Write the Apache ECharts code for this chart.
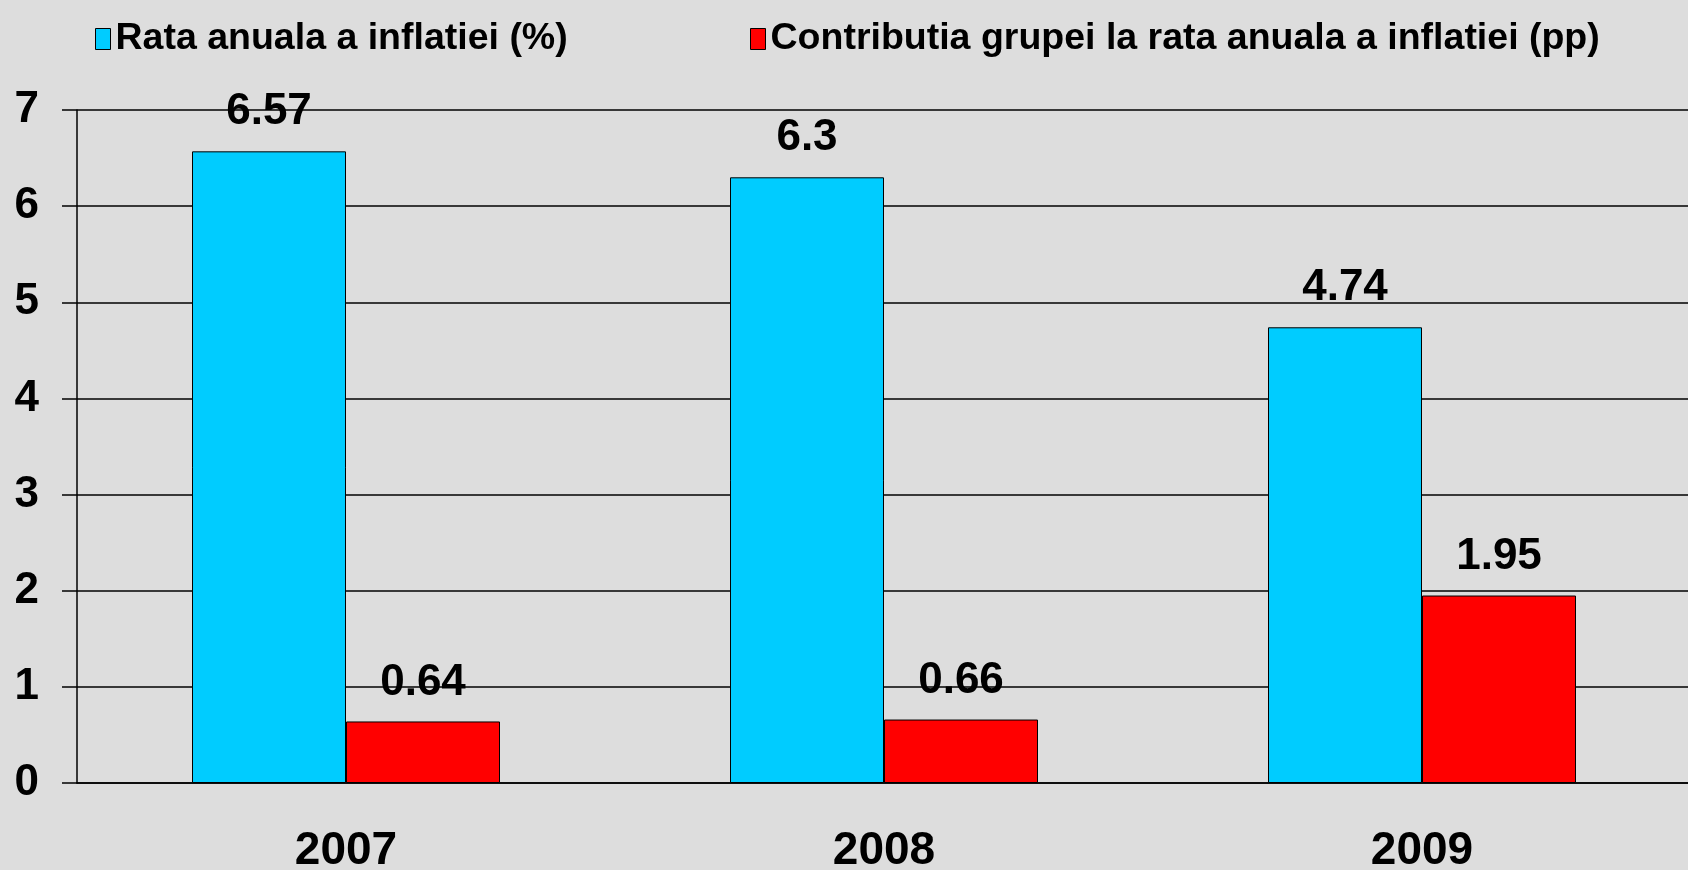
<!DOCTYPE html>
<html>
<head>
<meta charset="utf-8">
<title>Rata anuala a inflatiei</title>
<script src="https://cdn.jsdelivr.net/npm/echarts@6/dist/echarts.min.js"></script>
<style>
  html, body { margin: 0; padding: 0; background: #dddddd; }
  #inflationChart { width: 1688px; height: 870px; }
</style>
</head>
<body>
<div id="inflationChart"></div>
<script>
// data
var years = ["2007", "2008", "2009"];
var annualRate = [6.57, 6.3, 4.74];
var groupContribution = [0.64, 0.66, 1.95];
var seriesNames = [
  "Rata anuala a inflatiei (%)",
  "Contributia grupei la rata anuala a inflatiei (pp)",
];

var fontFamily = "Liberation Sans, Arial, sans-serif";

var chart = echarts.init(document.getElementById("inflationChart"));

// shared legend text style
var legendText = {
  fontFamily: fontFamily,
  fontWeight: "bold",
  fontSize: 37.5,
  color: "#000",
};

// ------------------------------
// Grouped bars, two legends placed by hand
// ------------------------------
var option = {
  backgroundColor: "#dddddd",
  animation: false,
  legend: [
    {
      data: [{ name: seriesNames[0], icon: "rect" }],
      left: 90,
      top: 15,
      itemWidth: 15,
      itemHeight: 21,
      itemStyle: { borderColor: "#000", borderWidth: 1 },
      textStyle: legendText,
    },
    {
      data: [{ name: seriesNames[1], icon: "rect" }],
      left: 745,
      top: 15,
      itemWidth: 15,
      itemHeight: 21,
      itemStyle: { borderColor: "#000", borderWidth: 1 },
      textStyle: legendText,
    },
  ],
  grid: {
    left: 77,
    right: -3,
    top: 110,
    bottom: 87,
    containLabel: false,
    outerBoundsMode: "none", // keep the plot where it is, labels may hang out
  },
  xAxis: {
    type: "category",
    data: years,
    axisLine: { lineStyle: { color: "#000", width: 1.5 } },
    axisTick: { length: 15, lineStyle: { color: "#000", width: 1.5 } },
    axisLabel: {
      margin: 45,
      fontFamily: fontFamily,
      fontWeight: "bold",
      fontSize: 46,
      color: "#000",
    },
  },
  yAxis: {
    type: "value",
    min: 0,
    max: 7,
    interval: 1,
    axisLine: { show: true, lineStyle: { color: "#000", width: 1.5 } },
    axisTick: { show: true, length: 15, lineStyle: { color: "#000", width: 1.5 } },
    splitLine: { lineStyle: { color: "#000", width: 1.5 } },
    axisLabel: {
      margin: 38,
      fontFamily: fontFamily,
      fontWeight: "bold",
      fontSize: 44,
      color: "#000",
    },
  },
  series: [
    {
      name: seriesNames[0],
      type: "bar",
      data: annualRate,
      barWidth: 154,
      barGap: "0%",
      itemStyle: { color: "#00ccff", borderColor: "#000", borderWidth: 1 },
      label: {
        show: true,
        position: "top",
        distance: 17,
        fontFamily: fontFamily,
        fontWeight: "bold",
        fontSize: 44,
        color: "#000",
      },
    },
    {
      name: seriesNames[1],
      type: "bar",
      data: groupContribution,
      barWidth: 154,
      barGap: "0%",
      itemStyle: { color: "#ff0000", borderColor: "#000", borderWidth: 1 },
      label: {
        show: true,
        position: "top",
        distance: 17,
        fontFamily: fontFamily,
        fontWeight: "bold",
        fontSize: 44,
        color: "#000",
      },
    },
  ],
};
chart.setOption(option);

window.addEventListener("resize", function () {
  chart.resize();
});
</script>
</body>
</html>
